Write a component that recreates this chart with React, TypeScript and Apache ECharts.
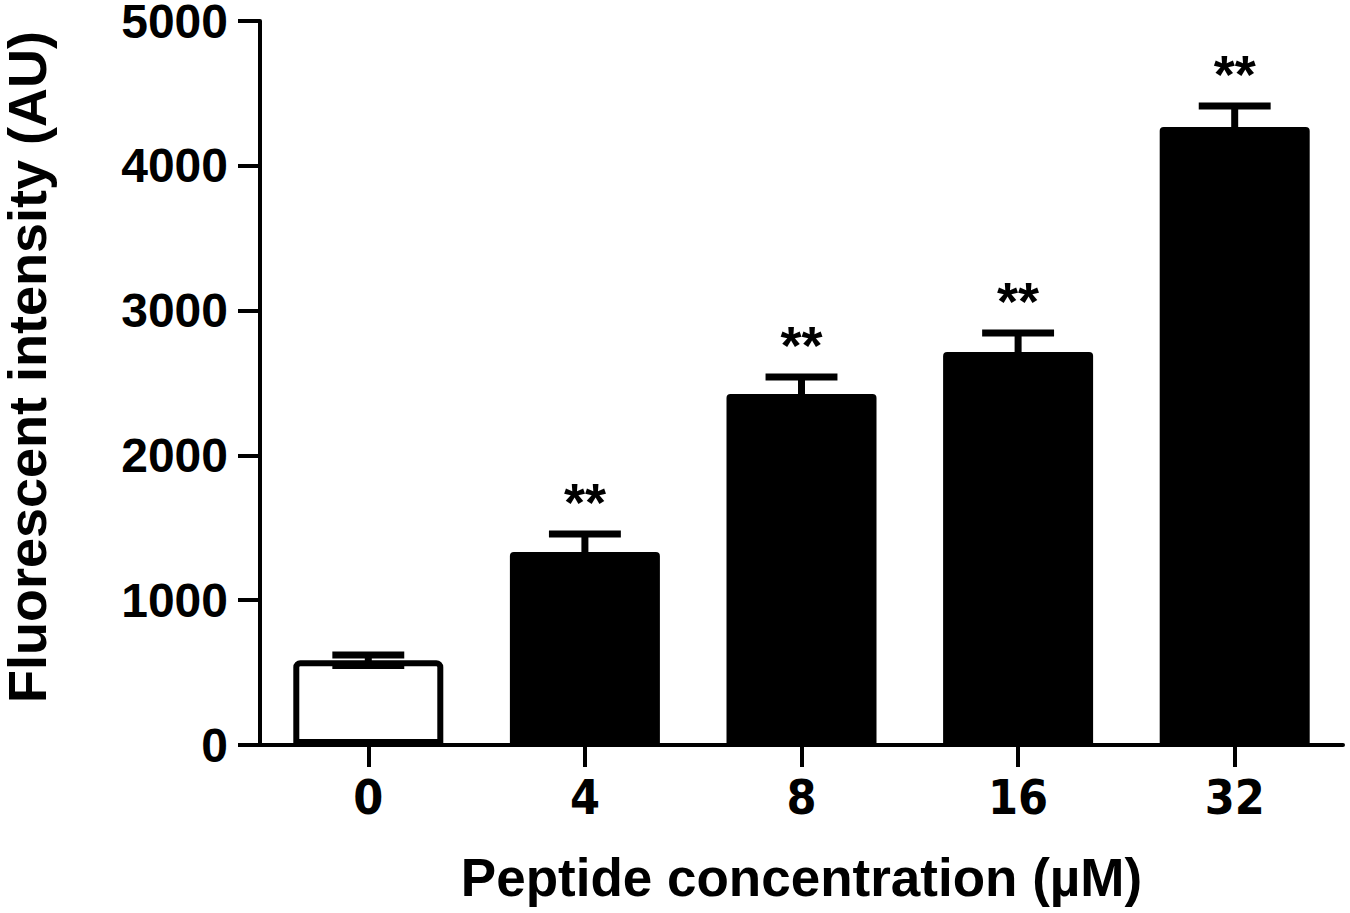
import React, { useEffect, useRef } from "react";
import * as echarts from "echarts";

const categories = ["0", "4", "8", "16", "32"];
const means = [585, 1333, 2424, 2714, 4268];
const errors = [36, 124, 117, 131, 145];
const stars = ["", "**", "**", "**", "**"];
const yTicks = { min: 0, max: 5000, interval: 1000 };

const FONT = "'Liberation Sans', Arial, sans-serif";
const NARROW = "'Liberation Sans Narrow', 'DejaVu Sans Condensed', 'Liberation Sans', Arial, sans-serif";

export default function App() {
  const ref = useRef<HTMLDivElement>(null);
  useEffect(() => {
    if (!ref.current) return;
    const chart = echarts.init(ref.current, undefined, { renderer: "svg" });
    const barData = means.map((v, i) =>
      i === 0
        ? { value: v, itemStyle: { color: "#ffffff", borderColor: "#000000", borderWidth: 6 } }
        : { value: v }
    );
    const errData = means.map((v, i) => [i, v, errors[i], stars[i]]);
    chart.setOption({
      animation: false,
      backgroundColor: "#ffffff",
      grid: { left: 260, right: 7, top: 21, bottom: 168, containLabel: false, outerBoundsMode: "none" },
      xAxis: {
        type: "category",
        data: categories,
        name: "Peptide concentration (µM)",
        nameLocation: "middle",
        nameGap: 106,
        nameTextStyle: { fontFamily: FONT, fontWeight: "bold", fontSize: 53, color: "#000" },
        axisLine: { lineStyle: { color: "#000", width: 4 } },
        axisTick: { show: true, alignWithLabel: true, length: 22, lineStyle: { color: "#000", width: 4 } },
        axisLabel: { fontFamily: NARROW, fontWeight: "bold", fontSize: 48, color: "#000", margin: 28 },
      },
      yAxis: {
        type: "value",
        min: yTicks.min,
        max: yTicks.max,
        interval: yTicks.interval,
        name: "Fluorescent intensity (AU)",
        nameLocation: "middle",
        nameGap: 208,
        nameRotate: 90,
        nameTextStyle: {
          fontFamily: FONT,
          fontWeight: "bold",
          fontSize: 54,
          lineHeight: 50,
          color: "#000",
          padding: [0, 0, 0, 32],
        },
        splitLine: { show: false },
        axisLine: { show: true, lineStyle: { color: "#000", width: 4 } },
        axisTick: { show: true, length: 22, lineStyle: { color: "#000", width: 4 } },
        axisLabel: {
          fontFamily: FONT,
          fontWeight: "bold",
          fontSize: 48,
          lineHeight: 40,
          color: "#000",
          margin: 32,
          formatter: (v: number) => String(v),
        },
      },
      series: [
        {
          type: "bar",
          data: barData,
          barWidth: 150,
          itemStyle: { color: "#000000", borderRadius: [4, 4, 0, 0] },
          z: 2,
        },
        {
          type: "custom",
          data: errData,
          z: 3,
          renderItem: (params: any, api: any) => {
            const i = api.value(0);
            const v = api.value(1);
            const e = api.value(2);
            const label = stars[i];
            const top = api.coord([i, v + e]);
            const bot = api.coord([i, v - e]);
            const band = api.size([1, 0])[0];
            const half = band * 0.166;
            const style = { stroke: "#000", lineWidth: 7 };
            const children: any[] = [
              { type: "line", shape: { x1: top[0], y1: top[1], x2: bot[0], y2: bot[1] }, style },
              { type: "line", shape: { x1: top[0] - half, y1: top[1], x2: top[0] + half, y2: top[1] }, style },
              { type: "line", shape: { x1: bot[0] - half, y1: bot[1], x2: bot[0] + half, y2: bot[1] }, style },
            ];
            if (label) {
              children.push({
                type: "text",
                style: {
                  text: label,
                  x: top[0],
                  y: top[1] - 32,
                  align: "center",
                  verticalAlign: "middle",
                  fontSize: 54,
                  fontWeight: "bold",
                  fontFamily: FONT,
                  fill: "#000",
                },
              });
            }
            return { type: "group", children };
          },
        },
      ],
    });
    return () => chart.dispose();
  }, []);
  return <div ref={ref} style={{ width: 1350, height: 913, position: "absolute", left: 0, top: 0 }} />;
}
